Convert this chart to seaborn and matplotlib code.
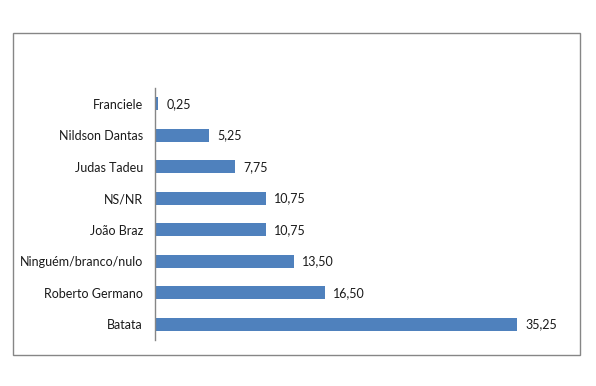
import matplotlib
matplotlib.use("Agg")
import matplotlib.pyplot as plt
import seaborn as sns
import pandas as pd
from matplotlib.patches import Rectangle

# data (top to bottom)
candidates = ['Franciele', 'Nildson Dantas', 'Judas Tadeu', 'NS/NR', 'João Braz',
              'Ninguém/branco/nulo', 'Roberto Germano', 'Batata']
percent = [0.25, 5.25, 7.75, 10.75, 10.75, 13.50, 16.50, 35.25]

df = pd.DataFrame({'Candidato': candidates, 'Pct': percent})

sns.set_style("white")
plt.rcParams['font.family'] = ['Lato', 'DejaVu Sans']

fig = plt.figure(figsize=(5.96, 3.86), dpi=100)
ax = fig.add_axes([0.2609, 0.1192, 0.688, 0.6528])

sns.barplot(data=df, y='Candidato', x='Pct', orient='h', color='#4F81BD',
            saturation=1, width=0.4, linewidth=0, ax=ax)

ax.set_xlim(0, 40)
ax.set_ylim(7.5, -0.5)
ax.set_xlabel('')
ax.set_ylabel('')
ax.set_xticks([])
ax.tick_params(axis='y', length=0, pad=9, labelsize=9, labelcolor='#1a1a1a')
for s in ['top', 'right', 'bottom']:
    ax.spines[s].set_visible(False)
ax.spines['left'].set_color('#868686')
ax.spines['left'].set_linewidth(1)

for i, v in enumerate(percent):
    ax.text(v + 0.8, i, f'{v:.2f}'.replace('.', ','), va='center', ha='left',
            fontsize=9, color='#1a1a1a')

# outer chart border
fig.patches.append(Rectangle((0.0224, 0.0803), 0.951, 0.834, transform=fig.transFigure,
                             fill=False, edgecolor='#868686', linewidth=1))

fig.savefig('out.png', dpi=100)
